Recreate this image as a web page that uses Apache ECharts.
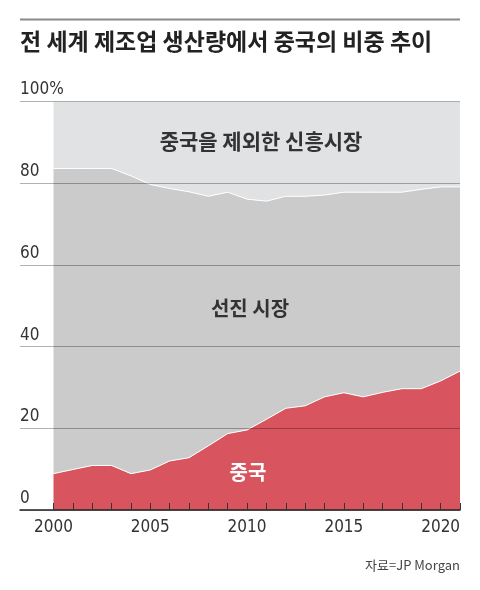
<!DOCTYPE html>
<html>
<head>
<meta charset="utf-8">
<script src="https://cdn.jsdelivr.net/npm/echarts@6/dist/echarts.min.js"></script>
<style>
  html, body { margin: 0; padding: 0; background: #fff; }
  #chart { width: 480px; height: 590px; }
</style>
</head>
<body>
<div id="chart"></div>
<script>
var years = ['2000', '2001', '2002', '2003', '2004', '2005', '2006', '2007', '2008', '2009', '2010',
             '2011', '2012', '2013', '2014', '2015', '2016', '2017', '2018', '2019', '2020', '2021'];
// 중국
var china = [8.9, 9.9, 10.9, 10.9, 8.9, 9.8, 12.0, 12.8, 15.7, 18.7, 19.6,
             22.2, 24.9, 25.5, 27.7, 28.7, 27.7, 28.8, 29.7, 29.7, 31.6, 34.0];
// 선진 시장
var advanced = [74.7, 73.7, 72.7, 72.7, 72.9, 69.9, 66.7, 65.1, 61.1, 59.1, 56.5,
                53.4, 51.9, 51.3, 49.4, 49.1, 50.1, 49.0, 48.1, 48.8, 47.5, 45.1];
// 중국을 제외한 신흥시장
var emerging = [16.4, 16.4, 16.4, 16.4, 18.2, 20.3, 21.3, 22.1, 23.2, 22.2, 23.9,
                24.4, 23.2, 23.2, 22.9, 22.2, 22.2, 22.2, 22.2, 21.5, 20.9, 20.9];
var yTicks = [0, 20, 40, 60, 80, 100];
var xLabels = ['2000', '2005', '2010', '2015', '2020'];

var numFont = '"Liberation Sans Narrow", "DejaVu Sans Condensed", sans-serif';
var krFont = '"Noto Sans CJK KR", sans-serif';

var chart = echarts.init(document.getElementById('chart'), null, {renderer: 'canvas'});

var option = {
    backgroundColor: '#ffffff',
    animation: false,
    grid: [
        {left: 20, right: 20, top: 101.5, bottom: 80},
        {left: 53.5, right: 20, top: 101.5, bottom: 80}
    ],
    xAxis: [
        {
            gridIndex: 0, type: 'value', min: 0, max: 1, z: 10,
            axisLine: {show: true, lineStyle: {color: '#222', width: 1.5}},
            axisTick: {show: false}, axisLabel: {show: false}, splitLine: {show: false}
        },
        {
            gridIndex: 1, type: 'category', data: years, boundaryGap: false, z: 10,
            axisLine: {show: false},
            axisTick: {show: true, inside: true, length: 7, interval: 0,
                       lineStyle: {color: '#333', width: 1}},
            axisLabel: {
                interval: 0, margin: 9, fontFamily: numFont, fontSize: 17, color: '#333',
                formatter: function(v) {
                    return xLabels.indexOf(v) >= 0 ? v : '';
                }
            },
            splitLine: {show: false}
        }
    ],
    yAxis: [
        {
            gridIndex: 0, type: 'value', min: 0, max: 100, interval: 20, z: 10,
            axisLine: {show: false}, axisTick: {show: false},
            axisLabel: {
                inside: true, margin: 0, align: 'left', verticalAlign: 'bottom',
                padding: [0, 0, 3, 0],
                fontFamily: numFont, fontSize: 17, color: '#333',
                formatter: function(v) {
                    if (yTicks.indexOf(v) < 0) return '';
                    return v === 100 ? '100%' : String(v);
                }
            },
            splitLine: {show: true, lineStyle: {color: 'rgba(0,0,0,0.3)', width: 1}}
        },
        {
            gridIndex: 1, type: 'value', min: 0, max: 100, show: false,
            splitLine: {show: false}
        }
    ],
    series: [
        {
            name: '중국', type: 'line', stack: 'share', xAxisIndex: 1, yAxisIndex: 1,
            data: china, showSymbol: false, symbol: 'none',
            lineStyle: {color: '#ffffff', width: 1},
            areaStyle: {color: '#d8555f', opacity: 1}
        },
        {
            name: '선진 시장', type: 'line', stack: 'share', xAxisIndex: 1, yAxisIndex: 1,
            data: advanced, showSymbol: false, symbol: 'none',
            lineStyle: {color: '#ffffff', width: 1},
            areaStyle: {color: '#cbcbcb', opacity: 1}
        },
        {
            name: '중국을 제외한 신흥시장', type: 'line', stack: 'share', xAxisIndex: 1, yAxisIndex: 1,
            data: emerging, showSymbol: false, symbol: 'none',
            lineStyle: {color: '#e1e2e4', width: 0},
            areaStyle: {color: '#e1e2e4', opacity: 1}
        }
    ],
    graphic: [
        {
            type: 'line', z: 20,
            shape: {x1: 20, y1: 19.5, x2: 460, y2: 19.5},
            style: {stroke: '#8a8a8a', lineWidth: 2}
        },
        {
            type: 'text', left: 20, top: 30, z: 20,
            style: {
                text: '전 세계 제조업 생산량에서 중국의 비중 추이',
                font: 'bold 23px ' + krFont, fill: '#222'
            }
        },
        {
            type: 'text', x: 261, y: 141, z: 20,
            style: {
                text: '중국을 제외한 신흥시장', align: 'center', verticalAlign: 'middle',
                font: 'bold 21px ' + krFont, fill: '#333'
            }
        },
        {
            type: 'text', x: 250, y: 308, z: 20,
            style: {
                text: '선진 시장', align: 'center', verticalAlign: 'middle',
                font: 'bold 20px ' + krFont, fill: '#333'
            }
        },
        {
            type: 'text', x: 248, y: 472, z: 20,
            style: {
                text: '중국', align: 'center', verticalAlign: 'middle',
                font: 'bold 20px ' + krFont, fill: '#ffffff'
            }
        },
        {
            type: 'text', right: 20, top: 559, z: 20,
            style: {
                text: '자료=JP Morgan',
                font: '13px ' + krFont, fill: '#444'
            }
        }
    ]
};

chart.setOption(option);
</script>
</body>
</html>
